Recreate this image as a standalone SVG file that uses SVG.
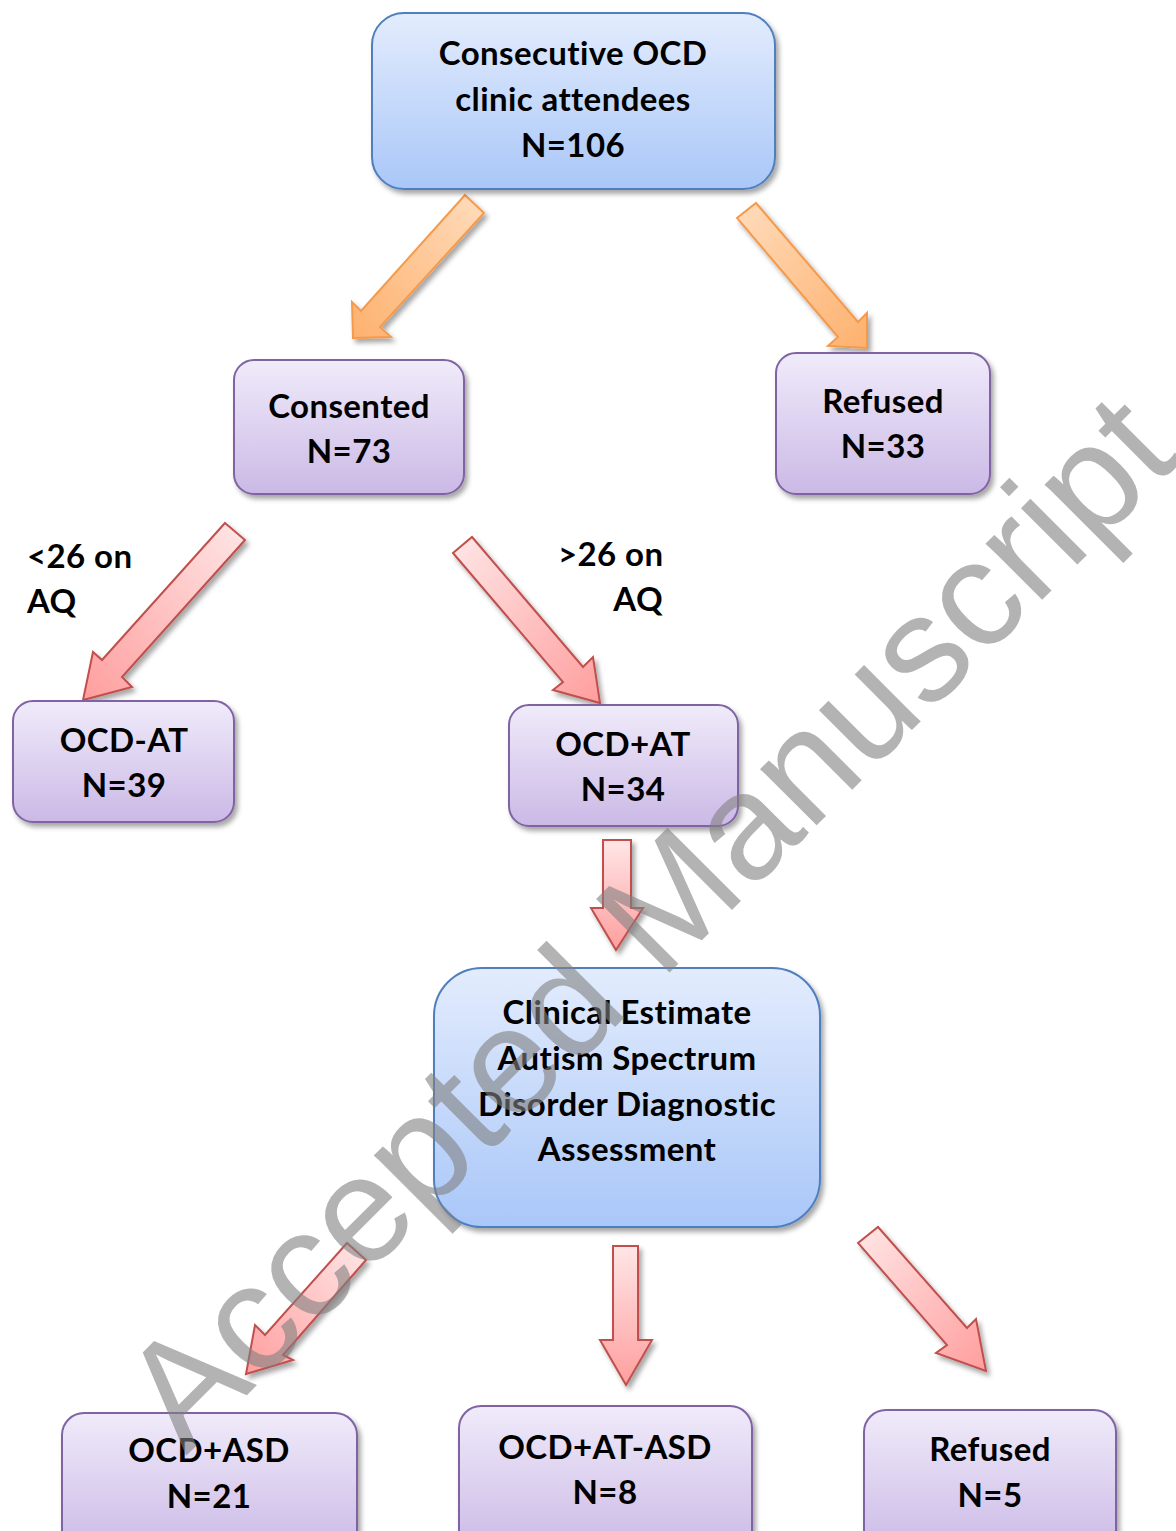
<svg xmlns="http://www.w3.org/2000/svg" width="1176" height="1531" viewBox="0 0 1176 1531">
<defs>
<linearGradient id="gBlue" x1="0" y1="0" x2="0" y2="1">
<stop offset="0" stop-color="#e3ecfd"/><stop offset="1" stop-color="#a9c7f8"/>
</linearGradient>
<linearGradient id="gPurple" x1="0" y1="0" x2="0" y2="1">
<stop offset="0" stop-color="#f0ebfa"/><stop offset="1" stop-color="#cbb9e6"/>
</linearGradient>
<linearGradient id="gOrange" x1="0" y1="0" x2="1" y2="1">
<stop offset="0" stop-color="#ffdcbc"/><stop offset="1" stop-color="#fdb16e"/>
</linearGradient>
<linearGradient id="gRed" x1="0" y1="0" x2="1" y2="1">
<stop offset="0" stop-color="#ffe6e6"/><stop offset="1" stop-color="#ff9e9e"/>
</linearGradient>
<linearGradient id="gRedL" x1="1" y1="0" x2="0" y2="1">
<stop offset="0" stop-color="#ffe6e6"/><stop offset="1" stop-color="#ff9e9e"/>
</linearGradient>
<linearGradient id="gOrangeL" x1="1" y1="0" x2="0" y2="1">
<stop offset="0" stop-color="#ffdcbc"/><stop offset="1" stop-color="#fdb16e"/>
</linearGradient>
<linearGradient id="gRedD" x1="0" y1="0" x2="0" y2="1">
<stop offset="0" stop-color="#ffe6e6"/><stop offset="1" stop-color="#ff9e9e"/>
</linearGradient>
<filter id="sh" x="-10%" y="-10%" width="130%" height="130%">
<feDropShadow dx="3" dy="4" stdDeviation="2.5" flood-color="#000" flood-opacity="0.35"/>
</filter>
</defs>
<style>
.blue{fill:url(#gBlue);stroke:#4f7fbf;stroke-width:2;filter:url(#sh)}
.purple{fill:url(#gPurple);stroke:#8064a2;stroke-width:2;filter:url(#sh)}
.arO{stroke:#f59a4c;stroke-width:2;stroke-linejoin:miter;filter:url(#sh)}
.arR{stroke:#c0504d;stroke-width:2;stroke-linejoin:miter;filter:url(#sh)}
text{font-family:Lato,"Open Sans","Liberation Sans",sans-serif;font-weight:bold;font-size:33px;letter-spacing:0.4px;fill:#000;text-anchor:middle}
.lab{text-anchor:start}
.wm{font-family:"Liberation Sans",Arial,sans-serif;font-weight:normal;font-size:151px;letter-spacing:0;fill:#808080;fill-opacity:0.6;text-anchor:start}
</style>

<g id="connectors">
<polygon class="arO" fill="url(#gOrangeL)" points="465,195 484,213 380,327 391,337 353,338 352,302 361,311"/>
<polygon class="arO" fill="url(#gOrange)" points="737,218 756,203 858,322 867,313 867,348 828,346 838,337"/>
<polygon class="arR" fill="url(#gRedL)" points="225,523 245,540 122,677 132,687 83,700 93,652 102,660"/>
<polygon class="arR" fill="url(#gRed)" points="453,553 472,537 583,667 593,657 600,703 553,690 563,682"/>
<polygon class="arR" fill="url(#gRedD)" points="603,840 631,840 631,908 643,908 616,950 591,908 603,908"/>
<polygon class="arR" fill="url(#gRedL)" points="347,1243 366,1260 283,1355 293,1360 246,1374 255,1325 265,1335"/>
<polygon class="arR" fill="url(#gRedD)" points="613,1246 638,1246 638,1340 652,1340 626,1385 600,1340 613,1340"/>
<polygon class="arR" fill="url(#gRed)" points="858,1243 878,1227 967,1328 976,1319 986,1371 936,1353 947,1345"/>
</g>

<g id="n_attendees">
<rect class="blue" x="372" y="13" width="403" height="176" rx="32"/>
<text x="573" y="65">Consecutive OCD</text>
<text x="573" y="111">clinic attendees</text>
<text x="573" y="157">N=106</text>
</g>
<g id="n_consented">
<rect class="purple" x="234" y="360" width="230" height="134" rx="20"/>
<text x="349" y="418">Consented</text>
<text x="349" y="463">N=73</text>
</g>
<g id="n_refused1">
<rect class="purple" x="776" y="353" width="214" height="141" rx="20"/>
<text x="883" y="413">Refused</text>
<text x="883" y="458">N=33</text>
</g>
<g id="n_ocd_minus_at">
<rect class="purple" x="13" y="701" width="221" height="121" rx="20"/>
<text x="124" y="752">OCD-AT</text>
<text x="124" y="797">N=39</text>
</g>
<g id="n_ocd_plus_at">
<rect class="purple" x="509" y="705" width="229" height="121" rx="20"/>
<text x="623" y="756">OCD+AT</text>
<text x="623" y="801">N=34</text>
</g>
<g id="n_clinical">
<rect class="blue" x="434" y="968" width="386" height="259" rx="48"/>
<text x="627" y="1024">Clinical Estimate</text>
<text x="627" y="1070">Autism Spectrum</text>
<text x="627" y="1116">Disorder Diagnostic</text>
<text x="627" y="1161">Assessment</text>
</g>
<g id="n_ocd_asd">
<rect class="purple" x="62" y="1413" width="295" height="140" rx="22"/>
<text x="209" y="1462">OCD+ASD</text>
<text x="209" y="1508">N=21</text>
</g>
<g id="n_ocd_at_asd">
<rect class="purple" x="459" y="1406" width="293" height="147" rx="22"/>
<text x="605" y="1459">OCD+AT-ASD</text>
<text x="605" y="1504">N=8</text>
</g>
<g id="n_refused2">
<rect class="purple" x="864" y="1410" width="252" height="143" rx="22"/>
<text x="990" y="1461">Refused</text>
<text x="990" y="1507">N=5</text>
</g>

<g id="labels">
<text class="lab" x="27" y="568">&lt;26 on</text>
<text class="lab" x="27" y="613">AQ</text>
<text class="lab" x="558" y="566">&gt;26 on</text>
<text x="663" y="611" style="text-anchor:end">AQ</text>
</g>

<text class="wm" x="186" y="1456" transform="rotate(-45 186 1456)">Accepted Manuscript</text>
</svg>
